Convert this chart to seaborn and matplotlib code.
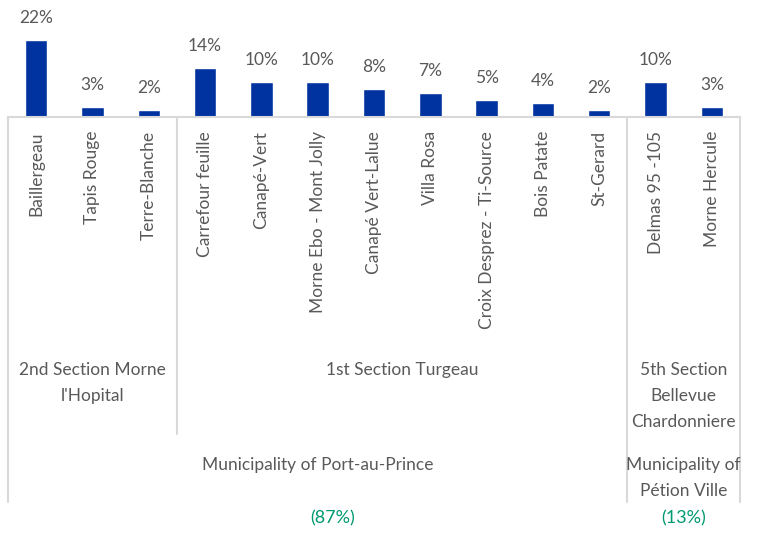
import pandas as pd
import matplotlib.pyplot as plt
import seaborn as sns
from matplotlib.transforms import blended_transform_factory

# data
localities = ['Baillergeau', 'Tapis Rouge', 'Terre-Blanche', 'Carrefour feuille',
              'Canapé-Vert', 'Morne Ebo - Mont Jolly', 'Canapé Vert-Lalue',
              'Villa Rosa', 'Croix Desprez - Ti-Source', 'Bois Patate', 'St-Gerard',
              'Delmas 95 -105', 'Morne Hercule']
shares = [22, 3, 2, 14, 10, 10, 8, 7, 5, 4, 2, 10, 3]
sections = ["2nd Section Morne\nl'Hopital", '1st Section Turgeau',
            '5th Section\nBellevue\nChardonniere']
section_sizes = [3, 8, 2]
municipalities = ['Municipality of Port-au-Prince', 'Municipality of\nPétion Ville']
municipality_sizes = [11, 2]
municipality_shares = ['(87%)', '(13%)']

df = pd.DataFrame({'locality': localities, 'share': shares})

sns.set_style('white')
plt.rcParams['font.family'] = ['Lato', 'DejaVu Sans']

W, H = 781, 533
fig = plt.figure(figsize=(W / 100, H / 100), dpi=100)

# axes: x from 8px to 740px, baseline at 117px from top
base_px = 117
top_px = 33
ax = fig.add_axes([8 / W, 1 - base_px / H, (740 - 8) / W, (base_px - top_px) / H])

sns.barplot(data=df, x='locality', y='share', color='#0033A0', width=0.4,
            saturation=1, ax=ax)
ax.set_ylim(0, 24)
ax.set_xlim(-0.5, len(localities) - 0.5)
for s in ['top', 'left', 'right']:
    ax.spines[s].set_visible(False)
ax.spines['bottom'].set_color('#d9d9d9')
ax.spines['bottom'].set_linewidth(1.5)
ax.set_yticks([])
ax.set_xticks([])
ax.set_xlabel('')
ax.set_ylabel('')

grey = '#595959'
for i, v in enumerate(shares):
    ax.annotate(f'{v}%', (i, v), xytext=(0, 10), textcoords='offset points',
                ha='center', va='bottom', fontsize=12.5, color=grey)

tr = blended_transform_factory(ax.transData, fig.transFigure)


def fy(px):
    return 1 - px / H


# locality labels
for i, name in enumerate(localities):
    ax.text(i, fy(131), name, rotation=90, ha='center', va='top',
            fontsize=12.5, color=grey, transform=tr)

line_kw = dict(color='#d9d9d9', lw=1.5, transform=tr, clip_on=False)

# section labels and separators
start = 0
ax.plot([-0.5, -0.5], [fy(base_px), fy(502)], **line_kw)
for name, n in zip(sections, section_sizes):
    mid = start + (n - 1) / 2
    ax.text(mid, fy(362), name, ha='center', va='top', fontsize=12.5,
            color=grey, linespacing=1.78, transform=tr)
    start += n
    end_px = 502 if start in (sum(municipality_sizes[:1]), len(localities)) else 434
    ax.plot([start - 0.5, start - 0.5], [fy(base_px), fy(end_px)], **line_kw)

# municipality labels
start = 0
for name, n, pct in zip(municipalities, municipality_sizes, municipality_shares):
    mid = start + (n - 1) / 2
    ax.text(mid, fy(457), name, ha='center', va='top', fontsize=12.5,
            color=grey, linespacing=1.78, transform=tr)
    ax.text(mid + (0.27 if n > 5 else 0), fy(518), pct, ha='center', va='center',
            fontsize=13, color='#009970', transform=tr)
    start += n

fig.savefig('out.png', dpi=100)
